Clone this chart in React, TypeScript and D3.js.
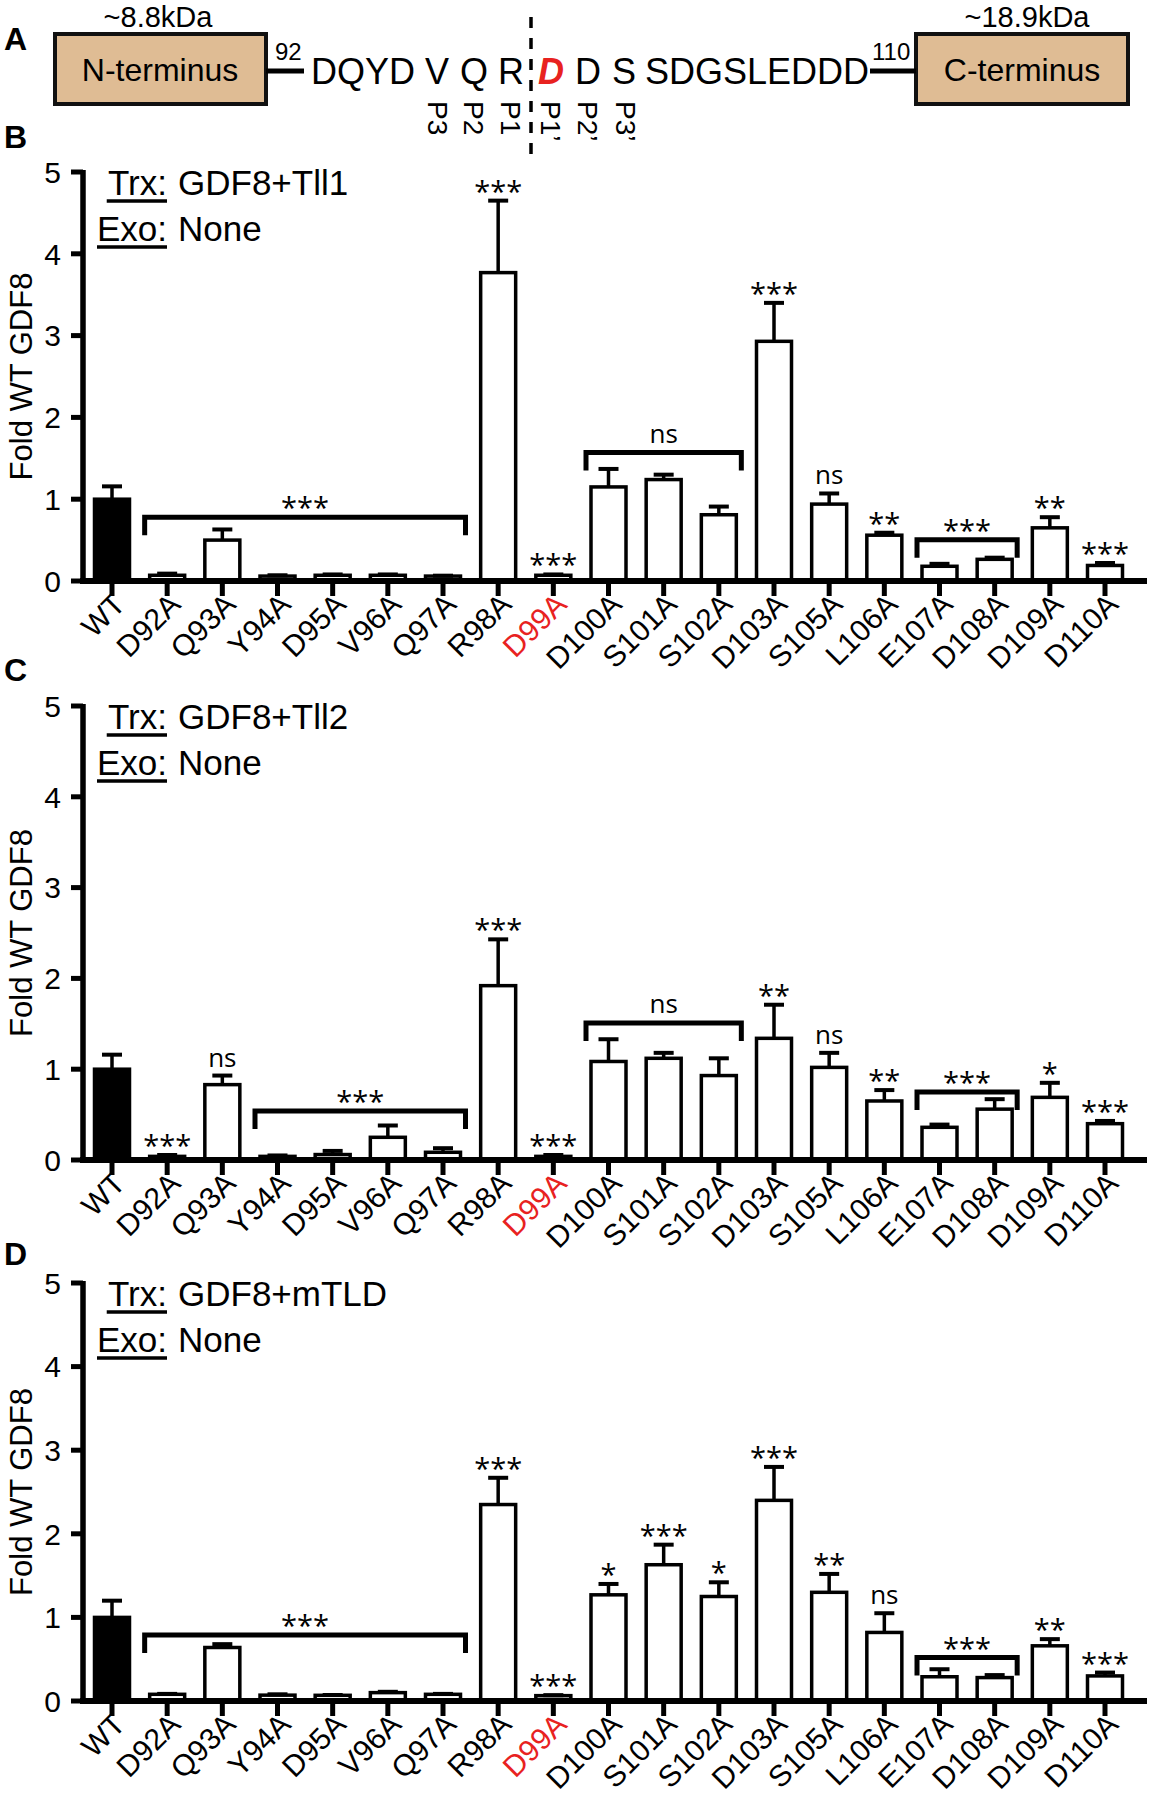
import React from 'react';
import * as d3 from 'd3';

const categories = ['WT','D92A','Q93A','Y94A','D95A','V96A','Q97A','R98A','D99A','D100A','S101A','S102A','D103A','S105A','L106A','E107A','D108A','D109A','D110A'];
const highlightCategory = 'D99A';
const yTicks = [0, 1, 2, 3, 4, 5];

// Panel B: GDF8 + Tll1
const tll1Mean = [1.0, 0.07, 0.50, 0.06, 0.07, 0.07, 0.06, 3.77, 0.07, 1.15, 1.24, 0.81, 2.93, 0.94, 0.56, 0.18, 0.265, 0.65, 0.19];
const tll1Sem  = [0.157, 0.02, 0.13, 0.01, 0.01, 0.01, 0.005, 0.88, 0.01, 0.22, 0.06, 0.10, 0.47, 0.13, 0.03, 0.03, 0.02, 0.13, 0.03];
const tll1Marks = ['', '', '', '', '', '', '', '***', '***', '', '', '', '***', 'ns', '**', '', '', '**', '***'];
const tll1Groups = [
  { from: 'D92A', to: 'Q97A', level: 0.78, label: '***' },
  { from: 'D100A', to: 'S102A', level: 1.57, label: 'ns' },
  { from: 'E107A', to: 'D108A', level: 0.505, label: '***' },
];

// Panel C: GDF8 + Tll2
const tll2Mean = [1.0, 0.04, 0.83, 0.04, 0.06, 0.25, 0.085, 1.92, 0.04, 1.085, 1.12, 0.93, 1.34, 1.02, 0.65, 0.36, 0.56, 0.69, 0.40];
const tll2Sem  = [0.16, 0.015, 0.10, 0.01, 0.04, 0.13, 0.045, 0.51, 0.015, 0.245, 0.06, 0.19, 0.37, 0.16, 0.12, 0.03, 0.11, 0.16, 0.03];
const tll2Marks = ['', '***', 'ns', '', '', '', '', '***', '***', '', '', '', '**', 'ns', '**', '', '', '*', '***'];
const tll2Groups = [
  { from: 'Y94A', to: 'Q97A', level: 0.54, label: '***' },
  { from: 'D100A', to: 'S102A', level: 1.51, label: 'ns' },
  { from: 'E107A', to: 'D108A', level: 0.75, label: '***' },
];

// Panel D: GDF8 + mTLD
const mtldMean = [1.0, 0.08, 0.64, 0.07, 0.068, 0.10, 0.08, 2.35, 0.064, 1.27, 1.63, 1.25, 2.40, 1.30, 0.82, 0.29, 0.28, 0.66, 0.30];
const mtldSem  = [0.2, 0.005, 0.04, 0.01, 0.004, 0.01, 0.005, 0.32, 0.006, 0.13, 0.24, 0.17, 0.40, 0.22, 0.23, 0.09, 0.03, 0.08, 0.04];
const mtldMarks = ['', '', '', '', '', '', '', '***', '***', '*', '***', '*', '***', '**', 'ns', '', '', '**', '***'];
const mtldGroups = [
  { from: 'D92A', to: 'Q97A', level: 0.79, label: '***' },
  { from: 'E107A', to: 'D108A', level: 0.52, label: '***' },
];

// Panel A: cleavage site sequence
const seqTokens = [
  { t: 'DQYD', x: 311 }, { t: 'V', x: 425 }, { t: 'Q', x: 460 }, { t: 'R', x: 498 },
  { t: 'D', x: 538, cut: true }, { t: 'D', x: 575 }, { t: 'S', x: 612 }, { t: 'SDGSLEDDD', x: 645 },
];
const siteLabels = [
  { t: 'P3', x: 438 }, { t: 'P2', x: 474 }, { t: 'P1', x: 511 },
  { t: 'P1\u2019', x: 551 }, { t: 'P2\u2019', x: 588 }, { t: 'P3\u2019', x: 626 },
];

const SANS = '"Liberation Sans", Arial, Helvetica, sans-serif';
const ANNO = '"Open Sans", "Noto Sans", sans-serif';
const RED = '#E8221F';

const panels = [
  { key: 'B', enzyme: 'GDF8+Tll1', mean: tll1Mean, sem: tll1Sem, marks: tll1Marks, groups: tll1Groups, top: 172, bottom: 581, letterY: 148 },
  { key: 'C', enzyme: 'GDF8+Tll2', mean: tll2Mean, sem: tll2Sem, marks: tll2Marks, groups: tll2Groups, top: 706, bottom: 1160, letterY: 681 },
  { key: 'D', enzyme: 'GDF8+mTLD', mean: mtldMean, sem: mtldSem, marks: mtldMarks, groups: mtldGroups, top: 1283, bottom: 1701, letterY: 1265 },
];

const AXIS_X = 83;
const BAR_W = 35;

function Panel({ p }: { p: typeof panels[number] }) {
  const x = d3.scalePoint<string>().domain(categories).range([112, 1105]);
  const y = d3.scaleLinear().domain([0, 5]).range([p.bottom, p.top]);
  const fs = 35;
  const colonX = 167;
  return (
    <g>
      <text x={4} y={p.letterY} fontFamily={SANS} fontWeight="bold" fontSize={32}>{p.key}</text>
      {/* bars */}
      {categories.map((c, i) => (
        <rect key={c} x={x(c)! - BAR_W / 2} y={y(p.mean[i])} width={BAR_W} height={y(0) - y(p.mean[i])}
          fill={i === 0 ? '#000' : '#fff'} stroke="#000" strokeWidth={3.5} />
      ))}
      {/* error bars */}
      {categories.map((c, i) => {
        const cx = x(c)!;
        const yt = y(p.mean[i] + p.sem[i]);
        return (
          <g key={c}>
            <line x1={cx} x2={cx} y1={y(p.mean[i])} y2={yt} stroke="#000" strokeWidth={3.5} />
            <line x1={cx - 10} x2={cx + 10} y1={yt} y2={yt} stroke="#000" strokeWidth={4} />
          </g>
        );
      })}
      {/* single marks */}
      {categories.map((c, i) => {
        const m = p.marks[i];
        if (!m) return null;
        const yt = y(p.mean[i] + p.sem[i]);
        const isNs = m === 'ns';
        return (
          <text key={c} x={x(c)!} y={isNs ? yt - 9 : yt + 1} textAnchor="middle" fontFamily={ANNO}
            fontSize={isNs ? 26 : 29}>{m}</text>
        );
      })}
      {/* group brackets */}
      {p.groups.map((g, k) => {
        const x1 = x(g.from)! - BAR_W / 2 - 5;
        const x2 = x(g.to)! + BAR_W / 2 + 5;
        const yl = y(g.level);
        const isNs = g.label === 'ns';
        return (
          <g key={k}>
            <path d={`M${x1},${yl + 18}V${yl}H${x2}V${yl + 18}`} fill="none" stroke="#000" strokeWidth={5} />
            <text x={(x1 + x2) / 2} y={isNs ? yl - 10 : yl + 1} textAnchor="middle" fontFamily={ANNO}
              fontSize={isNs ? 26 : 29}>{g.label}</text>
          </g>
        );
      })}
      {/* x axis */}
      <line x1={AXIS_X - 3} x2={1147} y1={y(0)} y2={y(0)} stroke="#000" strokeWidth={6} />
      {categories.map((c) => (
        <line key={c} x1={x(c)!} x2={x(c)!} y1={y(0)} y2={y(0) + 15} stroke="#000" strokeWidth={5} />
      ))}
      {categories.map((c) => (
        <text key={c} transform={`translate(${x(c)! + 15},${y(0) + 25}) rotate(-45)`} textAnchor="end"
          fontFamily={SANS} fontSize={30} fill={c === highlightCategory ? RED : '#000'}>{c}</text>
      ))}
      {/* y axis */}
      <line x1={AXIS_X} x2={AXIS_X} y1={y(5) - 2} y2={y(0) + 3} stroke="#000" strokeWidth={5.5} />
      {yTicks.map((t) => (
        <g key={t}>
          <line x1={AXIS_X - 12} x2={AXIS_X} y1={y(t)} y2={y(t)} stroke="#000" strokeWidth={5} />
          <text x={AXIS_X - 22} y={y(t)} dy="0.36em" textAnchor="end" fontFamily={SANS} fontSize={30}>{t}</text>
        </g>
      ))}
      <text transform={`translate(32,${(y(0) + y(5)) / 2}) rotate(-90)`} textAnchor="middle"
        fontFamily={SANS} fontSize={31}>Fold WT GDF8</text>
      {/* Trx / Exo labels */}
      <text x={colonX} y={p.top + 23} textAnchor="end" fontFamily={SANS} fontSize={fs}>Trx:</text>
      <line x1={colonX - 1.722 * fs} x2={colonX} y1={p.top + 29} y2={p.top + 29} stroke="#000" strokeWidth={3.5} />
      <text x={colonX + 11} y={p.top + 23} fontFamily={SANS} fontSize={fs}>{p.enzyme}</text>
      <text x={colonX} y={p.top + 69} textAnchor="end" fontFamily={SANS} fontSize={fs}>Exo:</text>
      <line x1={colonX - 2.0 * fs} x2={colonX} y1={p.top + 75} y2={p.top + 75} stroke="#000" strokeWidth={3.5} />
      <text x={colonX + 11} y={p.top + 69} fontFamily={SANS} fontSize={fs}>None</text>
    </g>
  );
}

function PanelA() {
  const boxFill = '#DFBC94';
  return (
    <g>
      <text x={4} y={50} fontFamily={SANS} fontWeight="bold" fontSize={32}>A</text>
      <rect x={55} y={34} width={211} height={70} fill={boxFill} stroke="#111" strokeWidth={4} />
      <rect x={916} y={34} width={212} height={70} fill={boxFill} stroke="#111" strokeWidth={4} />
      <text x={160} y={81} textAnchor="middle" fontFamily={SANS} fontSize={32}>N-terminus</text>
      <text x={1022} y={81} textAnchor="middle" fontFamily={SANS} fontSize={32}>C-terminus</text>
      <text x={158} y={27} textAnchor="middle" fontFamily={SANS} fontSize={29}>~8.8kDa</text>
      <text x={1027} y={27} textAnchor="middle" fontFamily={SANS} fontSize={29}>~18.9kDa</text>
      <line x1={266} x2={304} y1={71} y2={71} stroke="#000" strokeWidth={5} />
      <line x1={870} x2={916} y1={71} y2={71} stroke="#000" strokeWidth={5} />
      <text x={275} y={60} fontFamily={SANS} fontSize={24}>92</text>
      <text x={872} y={60} fontFamily={SANS} fontSize={24}>110</text>
      {seqTokens.map((s, i) => (
        <text key={i} x={s.x} y={84} fontFamily={SANS} fontSize={36}
          fill={s.cut ? RED : '#000'} fontWeight={s.cut ? 'bold' : 'normal'} fontStyle={s.cut ? 'italic' : 'normal'}>{s.t}</text>
      ))}
      {siteLabels.map((s, i) => (
        <text key={i} transform={`translate(${s.x - 10},101) rotate(90)`} fontFamily={SANS} fontSize={28}>{s.t}</text>
      ))}
      <line x1={531} x2={531} y1={17} y2={162} stroke="#000" strokeWidth={3.5} strokeDasharray="11,10" />
    </g>
  );
}

export default function App() {
  return (
    <svg width={1149} height={1800} viewBox="0 0 1149 1800"
      style={{ position: 'absolute', left: 0, top: 0, background: '#fff' }}>
      <rect width={1149} height={1800} fill="#fff" />
      <PanelA />
      {panels.map((p) => <Panel key={p.key} p={p} />)}
    </svg>
  );
}
